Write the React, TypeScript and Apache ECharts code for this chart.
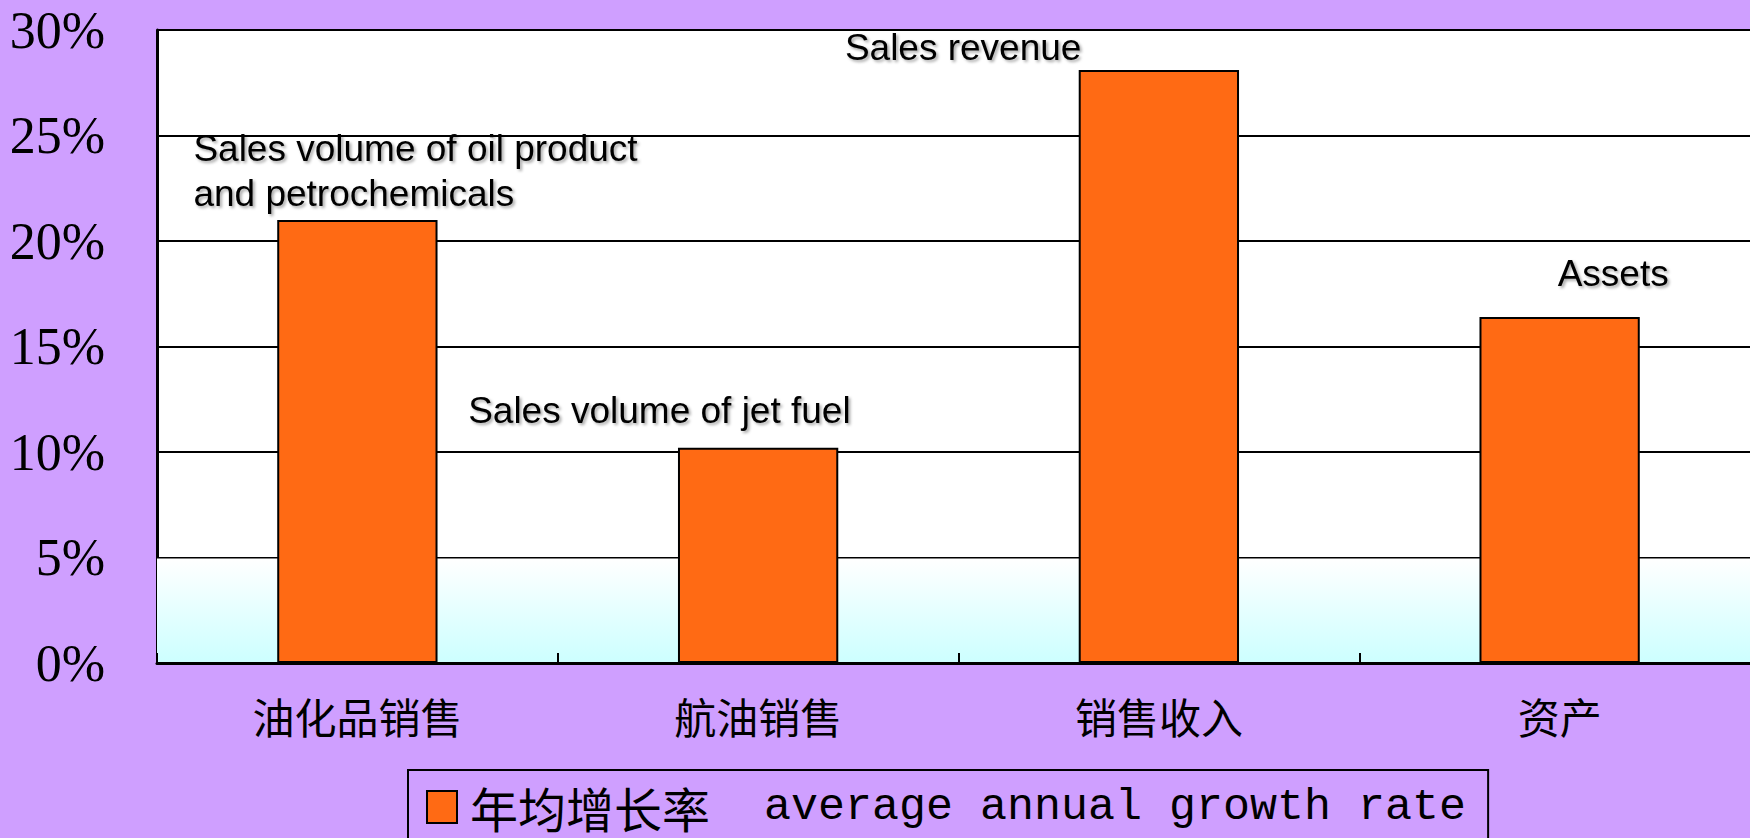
import React, { useEffect, useRef } from "react";
import * as echarts from "echarts";

const categories = ["油化品销售", "航油销售", "销售收入", "资产"];
const growthRates = [21.0, 10.2, 28.1, 16.4];
const annotations = [
  "Sales volume of oil product\nand petrochemicals",
  "Sales volume of jet fuel",
  "Sales revenue",
  "Assets",
];
const legendCn = "年均增长率";
const legendEn = "average annual growth rate";
const yMin = 0;
const yMax = 30;
const yStep = 5;

// label offsets (styling, not data)
const labelOffsets: [number, number][] = [
  [-164, 1],
  [-290, -10],
  [-314, 5],
  [-2, -16],
];

export default function App() {
  const ref = useRef<HTMLDivElement>(null);
  useEffect(() => {
    if (!ref.current) return;
    const chart = echarts.init(ref.current, null, { renderer: "svg" });
    const seriesName = legendCn + "  " + legendEn;
    const option: any = {
      animation: false,
      backgroundColor: "#CF9FFF",
      grid: {
        left: 157,
        top: 30,
        width: 1603,
        height: 633,
        show: true,
        backgroundColor: "#ffffff",
        borderWidth: 0,
      },
      legend: {
        show: true,
        left: 408,
        top: 770,
        padding: [13, 22, 40, 18],
        backgroundColor: "#CF9FFF",
        borderColor: "#000",
        borderWidth: 2,
        borderRadius: 0,
        icon: "rect",
        itemWidth: 30,
        itemHeight: 32,
        itemStyle: { borderColor: "#000", borderWidth: 2 },
        data: [seriesName],
        formatter: () => `{cn|${legendCn}}{en|  ${legendEn}}`,
        textStyle: {
          padding: [0, 0, 0, 8],
          rich: {
            cn: {
              fontFamily: "Noto Sans CJK SC",
              fontSize: 48,
              color: "#000",
              lineHeight: 42,
            },
            en: {
              fontFamily: "Liberation Mono",
              fontSize: 45,
              color: "#000",
              lineHeight: 42,
            },
          },
        },
      },
      xAxis: {
        type: "category",
        data: categories,
        z: 5,
        axisLine: { show: true, lineStyle: { color: "#000", width: 3 } },
        axisTick: { show: true, inside: true, length: 10, lineStyle: { color: "#000", width: 2 } },
        axisLabel: {
          color: "#000",
          fontFamily: "Noto Sans CJK SC",
          fontSize: 42,
          margin: 31,
        },
        splitLine: { show: false },
      },
      yAxis: {
        type: "value",
        min: yMin,
        max: yMax,
        interval: yStep,
        axisLine: { show: true, lineStyle: { color: "#000", width: 3 } },
        axisTick: { show: false },
        axisLabel: {
          color: "#000",
          fontFamily: "Liberation Serif",
          fontSize: 52,
          margin: 52,
          padding: [9, 0, 0, 0],
          formatter: "{value}%",
        },
        splitLine: { show: true, lineStyle: { color: "#000", width: 2 } },
      },
      series: [
        {
          type: "line",
          z: 1,
          data: [],
          silent: true,
          markArea: {
            silent: true,
            itemStyle: {
              color: new echarts.graphic.LinearGradient(0, 0, 0, 1, [
                { offset: 0, color: "#ffffff" },
                { offset: 1, color: "#CCFFFF" },
              ]),
            },
            data: [[{ yAxis: 0 }, { yAxis: 4.95 }]],
          },
        },
        {
          name: seriesName,
          type: "bar",
          z: 3,
          barCategoryGap: "60%",
          itemStyle: { color: "#FF6A14", borderColor: "#000", borderWidth: 2 },
          data: growthRates.map((v, i) => ({
            value: v,
            label: {
              show: true,
              position: "top",
              align: "left",
              offset: labelOffsets[i],
              formatter: annotations[i],
              fontFamily: "Liberation Sans",
              fontSize: 37,
              lineHeight: 45,
              color: "#000",
              textShadowColor: "rgba(0,0,0,0.35)",
              textShadowBlur: 3,
              textShadowOffsetX: 2,
              textShadowOffsetY: 2,
            },
          })),
        },
      ],
    };
    chart.setOption(option);
    return () => chart.dispose();
  }, []);
  return (
    <div
      ref={ref}
      style={{ position: "fixed", left: 0, top: 0, width: 1800, height: 838 }}
    />
  );
}
